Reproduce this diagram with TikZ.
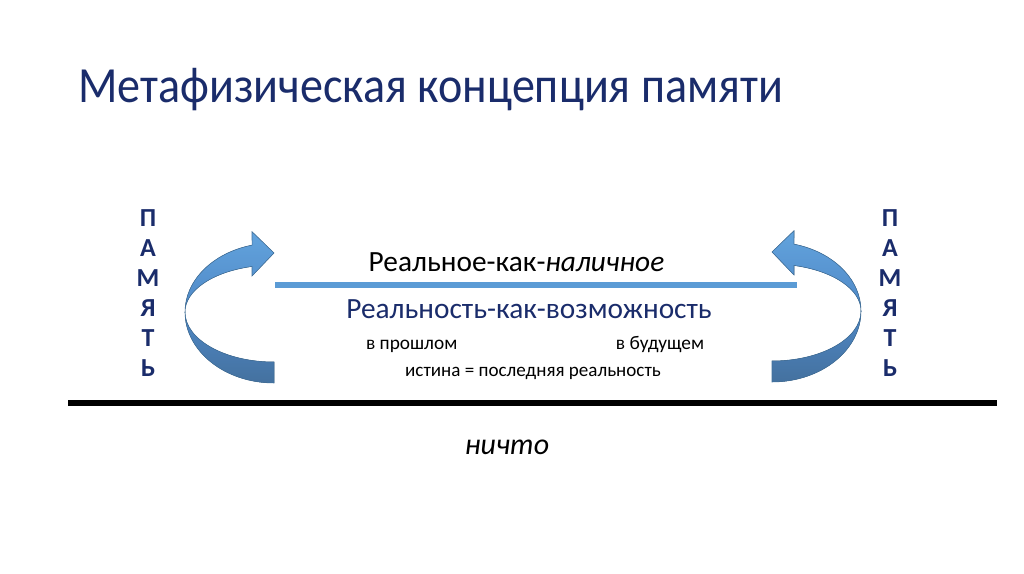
\documentclass[tikz,border=0pt]{standalone}
\usepackage{fontspec}
\setmainfont{Carlito}
\usepackage{graphicx}
\usepackage{tikz}
\usetikzlibrary{positioning,calc}
\definecolor{MNavy}{HTML}{1A2C6B}
\definecolor{MBlue}{HTML}{5B9BD5}
\definecolor{MBlueLight}{HTML}{62A3DD}
\definecolor{MBlueMid}{HTML}{4F88C6}
\definecolor{MBlueDark}{HTML}{44719F}
\definecolor{MEdge}{HTML}{41719C}

\tikzset{
  word/.style={anchor=base,inner sep=0pt,font=\fontsize{#1}{#1}\selectfont},
  letter/.style={anchor=base,inner sep=0pt,text=MNavy,font=\fontsize{19.5}{20}\selectfont\bfseries},
  bandfront/.style={draw=MEdge,line width=0.4pt,top color=MBlueLight,bottom color=MBlueMid},
  bandback/.style={draw=MEdge,line width=0.4pt,top color=MBlueMid,bottom color=MBlueDark}
}
% curved arrow, drawn around its centre (0,0)
\newcommand{\memarrow}{%
  \fill[bandback] (-89,0) arc[start angle=180,end angle=270,x radius=89,y radius=71]
    -- (0,-50) arc[start angle=270,end angle=180,x radius=89,y radius=50] -- cycle;
  \fill[bandfront] (-89,0) arc[start angle=180,end angle=104.3,x radius=89,y radius=69]
    -- (-22,80.3) -- (0,59) -- (-22,36) -- (-22,45.5)
    arc[start angle=104.3,end angle=180,x radius=89,y radius=47] -- cycle;
}

\begin{document}
\begin{tikzpicture}[x=0.75pt,y=0.75pt]
  \useasboundingbox[fill=white] (0,0) rectangle (1024,574);

  \node[word=38,anchor=base west,text=MNavy] (title) at (78,471)
    {\scalebox{0.91}[1]{Метафизическая концепция памяти}};

  % memory letters on both sides
  \foreach \c [count=\i from 0] in {П,А,М,Я,Т,Ь} {
    \node[letter] (pl\i) at (148,347-30*\i) {\c};
    \node[letter] (pr\i) at (890,347-30*\i) {\c};
  }

  % the two curved arrows
  \begin{scope}[shift={(274,262)}]
    \memarrow
  \end{scope}
  \begin{scope}[shift={(772,263)},xscale=-1]
    \memarrow
  \end{scope}

  \coordinate (presL) at (275,289);
  \coordinate (presR) at (797,289);
  \draw[MBlue,line width=3.8pt] (presL) -- (presR);

  \node[word=22] (pres) at (516.5,302.3) {Реальное-как-\textit{наличное}};
  \node[word=22,text=MNavy] (poss) at (529,255.7) {Реальность-как-возможность};
  \node[word=14.5] (past) at (411.7,224) {в прошлом};
  \node[word=14.5] (fut) at (660,224) {в будущем};
  \node[word=14.3] (truth) at (533,197.3) {истина = последняя реальность};

  \coordinate (groundL) at (68,171);
  \coordinate (groundR) at (997,171);
  \draw[black,line width=4.5pt] (groundL) -- (groundR);

  \node[word=22.5] (none) at (507,119) {\textit{ничто}};
\end{tikzpicture}
\end{document}
